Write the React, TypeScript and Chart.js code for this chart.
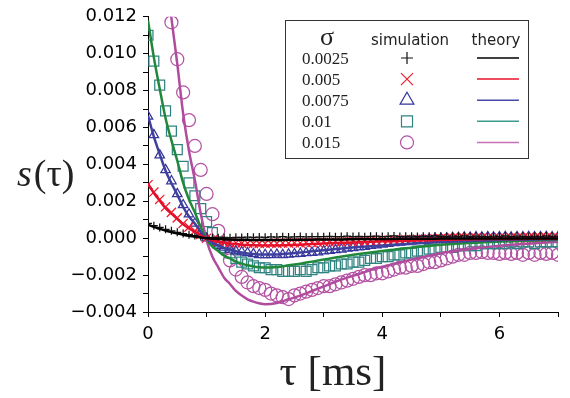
import React, { useEffect, useRef } from 'react';
import { Chart, registerables } from 'chart.js';

Chart.register(...registerables);

// ---------- data ----------
const TAU_SIM = [
  0, 0.1, 0.2, 0.3, 0.4, 0.5, 0.6, 0.7, 0.8, 0.9,
  1, 1.1, 1.2, 1.3, 1.4, 1.5, 1.6, 1.7, 1.8, 1.9,
  2, 2.1, 2.2, 2.3, 2.4, 2.5, 2.6, 2.7, 2.8, 2.9,
  3, 3.1, 3.2, 3.3, 3.4, 3.5, 3.6, 3.7, 3.8, 3.9,
  4, 4.1, 4.2, 4.3, 4.4, 4.5, 4.6, 4.7, 4.8, 4.9,
  5, 5.1, 5.2, 5.3, 5.4, 5.5, 5.6, 5.7, 5.8, 5.9,
  6, 6.1, 6.2, 6.3, 6.4, 6.5, 6.6, 6.7, 6.8, 6.9,
  7,
];

const TAU_THEORY = [
  0, 0.1, 0.2, 0.3, 0.4, 0.5, 0.6, 0.7, 0.8, 0.9, 1, 1.1, 1.2, 1.3, 1.4, 1.5, 1.6, 1.7, 1.8, 1.9, 2,
  2.2, 2.4, 2.6, 2.8, 3, 3.2, 3.4, 3.6, 3.8, 4, 4.2, 4.4, 4.6, 4.8, 5, 5.2, 5.4, 5.6, 5.8, 6, 6.2, 6.4, 6.6, 6.8, 7,
];

const SIGMA_LABELS = ['0.0025', '0.005', '0.0075', '0.01', '0.015'];

const SIM_0025 = [
  0.0008, 0.00068, 0.00058, 0.00048, 0.0004, 0.00032, 0.00025, 0.00019, 0.00014, 0.00009,
  0.00005, 0.00003, 0.00002, 0.00004, 0.00003, 0.00005, 0.00004, 0.00006, 0.00005, 0.00006,
  0.00005, 0.00007, 0.00006, 0.00008, 0.00006, 0.00007, 0.00009, 0.00007, 0.00008, 0.00009,
  0.00008, 0.0001, 0.00008, 0.00009, 0.00011, 0.00009, 0.0001, 0.00008, 0.0001, 0.00011,
  0.00009, 0.0001, 0.00012, 0.00009, 0.0001, 0.00011, 0.00009, 0.00011, 0.0001, 0.00012,
  0.0001, 0.00009, 0.00011, 0.0001, 0.00012, 0.00009, 0.00011, 0.0001, 0.00009, 0.00011,
  0.0001, 0.00012, 0.00009, 0.00011, 0.0001, 0.00009, 0.00011, 0.0001, 0.00012, 0.0001,
  0.00011,
];
const SIM_005 = [
  0.0029, 0.0025, 0.0021, 0.0017, 0.0014, 0.0011, 0.0008, 0.0006, 0.0004, 0.0002,
  0.0, -0.0001, -0.00016, -0.0002, -0.00024, -0.00026, -0.00028, -0.00027, -0.00029, -0.00028,
  -0.00029, -0.00027, -0.00028, -0.00026, -0.00027, -0.00025, -0.00026, -0.00024, -0.00023, -0.00024,
  -0.00021, -0.00022, -0.00019, -0.0002, -0.00017, -0.00018, -0.00015, -0.00016, -0.00013, -0.00014,
  -0.00011, -0.00012, -0.00009, -0.0001, -0.00007, -0.00008, -0.00005, -0.00006, -0.00004, -0.00003,
  -0.00002, -0.00003, 0.0, -0.00001, 0.00001, 0.0, 0.00002, 0.00001, 0.00002, 0.0,
  0.00002, 0.00001, 0.00003, 0.00001, 0.00002, 0.00003, 0.00001, 0.00002, 0.00003, 0.00002,
  0.00002,
];
const SIM_0075 = [
  0.0066, 0.0056, 0.0045, 0.0037, 0.0031, 0.0024, 0.0018, 0.0013, 0.0008, 0.0003,
  0.0, -0.0002, -0.0004, -0.0005, -0.0006, -0.0007, -0.00075, -0.0008, -0.00085, -0.0009,
  -0.0009, -0.0009, -0.00088, -0.0009, -0.00087, -0.00085, -0.00083, -0.0008, -0.00078, -0.00075,
  -0.0007, -0.00068, -0.00063, -0.0006, -0.00055, -0.00052, -0.00048, -0.00045, -0.0004, -0.00037,
  -0.00033, -0.0003, -0.00026, -0.00023, -0.0002, -0.00016, -0.00013, -0.0001, -0.00007, -0.00005,
  -0.00002, 0.0, 0.00002, 0.00003, 0.00005, 0.00004, 0.00006, 0.00005, 0.00007, 0.00005,
  0.00006, 0.00008, 0.00005, 0.00007, 0.00006, 0.00008, 0.00006, 0.00007, 0.00008, 0.00006,
  0.00007,
];
const SIM_01 = [
  0.011, 0.0096, 0.0083, 0.0069, 0.0058, 0.0048, 0.0039, 0.003, 0.0023, 0.0016,
  0.0009, 0.0003, -0.0002, -0.0005, -0.0008, -0.0011, -0.0013, -0.0014, -0.0015, -0.0016,
  -0.0016, -0.0017, -0.0017, -0.0018, -0.0018, -0.0018, -0.0017, -0.0018, -0.0017, -0.0016,
  -0.0016, -0.0015, -0.0015, -0.0014, -0.0014, -0.0013, -0.0013, -0.0012, -0.0011, -0.0011,
  -0.001, -0.001, -0.0009, -0.0009, -0.0008, -0.0008, -0.0007, -0.0007, -0.0006, -0.0006,
  -0.0005, -0.0005, -0.0005, -0.0004, -0.0004, -0.0004, -0.0004, -0.0003, -0.0003, -0.0003,
  -0.0003, -0.0003, -0.0002, -0.0003, -0.0002, -0.0002, -0.0003, -0.0002, -0.0002, -0.0002,
  -0.0002,
];
const SIM_015 = [
  0.0235, 0.0195, 0.0163, 0.0138, 0.0117, 0.0097, 0.0079, 0.0064, 0.005, 0.0037,
  0.0024, 0.0013, 0.0004, -0.0005, -0.0012, -0.0017, -0.0021, -0.0024, -0.0026, -0.0027,
  -0.0028, -0.003, -0.0031, -0.0032, -0.0033, -0.0031, -0.003, -0.0029, -0.0028, -0.0027,
  -0.0026, -0.0026, -0.0025, -0.0024, -0.0023, -0.0022, -0.0021, -0.002, -0.002, -0.0019,
  -0.0019, -0.0018, -0.0017, -0.0016, -0.0016, -0.0015, -0.0015, -0.0014, -0.0013, -0.0013,
  -0.0012, -0.0011, -0.001, -0.0009, -0.0009, -0.0008, -0.0008, -0.00075, -0.0008, -0.0008,
  -0.00085, -0.0008, -0.00085, -0.0008, -0.0009, -0.0008, -0.0009, -0.0008, -0.00085, -0.0008,
  -0.0009,
];

const TH_0025 = [
  0.00074, 0.00061, 0.00051, 0.00041, 0.00033, 0.00026, 0.00019, 0.00013, 0.00009, 0.00004, 0.0,
  -0.00003, -0.00004, -0.00006, -0.00007, -0.00008, -0.00009, -0.00009, -0.0001, -0.0001, -0.0001,
  -0.0001, -0.00009, -0.00009, -0.00008, -0.00007, -0.00007, -0.00006, -0.00005, -0.00005, -0.00004,
  -0.00004, -0.00003, -0.00003, -0.00003, -0.00002, -0.00002, -0.00002, -0.00002, -0.00001, -0.00001,
  -0.00001, -0.00001, -0.00001, -0.00001, -0.00001,
];
const TH_005 = [
  0.00295, 0.00245, 0.00203, 0.00163, 0.00133, 0.00105, 0.00075, 0.00053, 0.00035, 0.00015, -0.00001,
  -0.00011, -0.00018, -0.00024, -0.00028, -0.00032, -0.00035, -0.00037, -0.00038, -0.00039, -0.0004,
  -0.00039, -0.00037, -0.00035, -0.00032, -0.00029, -0.00026, -0.00024, -0.00022, -0.00019, -0.00017,
  -0.00016, -0.00014, -0.00012, -0.00011, -0.00009, -0.00008, -0.00007, -0.00006, -0.00005, -0.00005,
  -0.00004, -0.00004, -0.00003, -0.00003, -0.00002,
];
const TH_0075 = [
  0.00664, 0.00551, 0.00456, 0.00366, 0.00298, 0.00236, 0.00169, 0.00118, 0.00079, 0.00034, -0.00003,
  -0.00025, -0.00039, -0.00053, -0.00062, -0.00071, -0.00078, -0.00083, -0.00086, -0.00088, -0.00089,
  -0.00088, -0.00083, -0.00078, -0.00071, -0.00065, -0.00059, -0.00053, -0.00048, -0.00043, -0.00039,
  -0.00035, -0.00031, -0.00027, -0.00024, -0.0002, -0.00018, -0.00016, -0.00014, -0.00012, -0.0001,
  -0.00009, -0.00008, -0.00007, -0.00006, -0.00005,
];
const TH_01 = [
  0.0118, 0.0098, 0.0081, 0.0065, 0.0053, 0.0042, 0.003, 0.0021, 0.0014, 0.0006, -0.00005,
  -0.00045, -0.0007, -0.00095, -0.0011, -0.00127, -0.00138, -0.00147, -0.00153, -0.00157, -0.00159,
  -0.00156, -0.00147, -0.00138, -0.00127, -0.00116, -0.00105, -0.00095, -0.00086, -0.00077, -0.00069,
  -0.00062, -0.00055, -0.00048, -0.00042, -0.00036, -0.00032, -0.00028, -0.00024, -0.00021, -0.00018,
  -0.00016, -0.00014, -0.00012, -0.0001, -0.00009,
];
const TH_015 = [
  0.02655, 0.02205, 0.01823, 0.01463, 0.01193, 0.00945, 0.00675, 0.00473, 0.00315, 0.00135, -0.00011,
  -0.00101, -0.00158, -0.00214, -0.00248, -0.00286, -0.00311, -0.00331, -0.00344, -0.00353, -0.00358,
  -0.00351, -0.00331, -0.00311, -0.00286, -0.00261, -0.00236, -0.00214, -0.00194, -0.00173, -0.00155,
  -0.0014, -0.00124, -0.00108, -0.00095, -0.00081, -0.00072, -0.00063, -0.00054, -0.00047, -0.00041,
  -0.00036, -0.00032, -0.00027, -0.00023, -0.0002,
];

// ---------- styles ----------
const SERIES = [
  { sim: SIM_0025, th: TH_0025, marker: 'cross', markerColor: '#111111', lineColor: '#000000', legendLine: '#000000', r: 4, lr: 6 },
  { sim: SIM_005, th: TH_005, marker: 'crossRot', markerColor: '#ee1c2e', lineColor: '#e4102a', legendLine: '#e8102a', r: 6.5, lr: 8.5 },
  { sim: SIM_0075, th: TH_0075, marker: 'triangle', markerColor: '#35359c', lineColor: '#3f3f9e', legendLine: '#4848a8', r: 5.5, lr: 8 },
  { sim: SIM_01, th: TH_01, marker: 'rect', markerColor: '#2f8482', lineColor: '#21873a', legendLine: '#3c9a90', r: 7, lr: 7.8 },
  { sim: SIM_015, th: TH_015, marker: 'circle', markerColor: '#b452a4', lineColor: '#b04c9e', legendLine: '#c472b8', r: 6.5, lr: 6.5 },
];

const SERIF = '"Liberation Serif", "Times New Roman", serif';
const SANS = '"DejaVu Sans", sans-serif';

function drawMarker(ctx: CanvasRenderingContext2D, style: string, x: number, y: number, r: number) {
  ctx.beginPath();
  if (style === 'cross') {
    ctx.moveTo(x - r, y); ctx.lineTo(x + r, y);
    ctx.moveTo(x, y - r); ctx.lineTo(x, y + r);
  } else if (style === 'crossRot') {
    const d = r * Math.SQRT1_2;
    ctx.moveTo(x - d, y - d); ctx.lineTo(x + d, y + d);
    ctx.moveTo(x - d, y + d); ctx.lineTo(x + d, y - d);
  } else if (style === 'triangle') {
    ctx.moveTo(x, y - r);
    ctx.lineTo(x + r * Math.sin(Math.PI * 2 / 3), y + r * 0.5);
    ctx.lineTo(x - r * Math.sin(Math.PI * 2 / 3), y + r * 0.5);
    ctx.closePath();
  } else if (style === 'rect') {
    const s = r * Math.SQRT1_2;
    ctx.rect(x - s, y - s, 2 * s, 2 * s);
  } else {
    ctx.arc(x, y, r, 0, Math.PI * 2);
  }
  ctx.stroke();
}

const overlayPlugin = {
  id: 'overlay',
  afterDraw(chart: any) {
    const ctx: CanvasRenderingContext2D = chart.ctx;
    ctx.save();
    ctx.fillStyle = '#222';
    ctx.textBaseline = 'alphabetic';
    // y title: s(τ)
    ctx.textAlign = 'left';
    ctx.font = `italic 38px ${SERIF}`;
    ctx.fillText('s', 17, 186);
    const w = ctx.measureText('s').width;
    ctx.font = `38px ${SERIF}`;
    ctx.fillText('(τ)', 17 + w + 2, 186);
    // x title
    ctx.font = `43px ${SERIF}`;
    ctx.textAlign = 'center';
    ctx.fillText('τ [ms]', 333, 385);

    // legend box
    const bx = 285, by = 20, bw = 243, bh = 138;
    ctx.fillStyle = '#ffffff';
    ctx.fillRect(bx, by, bw, bh);
    ctx.strokeStyle = '#333';
    ctx.lineWidth = 1;
    ctx.strokeRect(bx + 0.5, by + 0.5, bw, bh);

    ctx.fillStyle = '#222';
    ctx.textAlign = 'center';
    ctx.font = `26px ${SERIF}`;
    ctx.fillText('σ', 327, 45);
    ctx.font = `15px ${SANS}`;
    ctx.fillText('simulation', 410, 45);
    ctx.fillText('theory', 496, 45);

    SERIES.forEach((s, i) => {
      const base = 63.5 + i * 21.1;
      const cy = base - 5.5;
      ctx.fillStyle = '#222';
      ctx.textAlign = 'left';
      ctx.font = `17px ${SERIF}`;
      ctx.fillText(SIGMA_LABELS[i], 302, base);
      ctx.strokeStyle = s.markerColor;
      ctx.lineWidth = 1.2;
      drawMarker(ctx, s.marker, 407, cy, s.lr);
      ctx.strokeStyle = s.legendLine;
      ctx.lineWidth = 1.5;
      ctx.beginPath();
      ctx.moveTo(477, cy);
      ctx.lineTo(519, cy);
      ctx.stroke();
    });
    ctx.restore();
  },
};

export default function App() {
  const ref = useRef<HTMLCanvasElement | null>(null);

  useEffect(() => {
    const canvas = ref.current;
    if (!canvas) return;
    const toPts = (xs: number[], ys: number[]) => xs.map((x, i) => ({ x, y: ys[i] }));

    const datasets: any[] = [
      ...SERIES.map((s, i) => ({
        label: 'theory ' + SIGMA_LABELS[i],
        data: toPts(TAU_THEORY, s.th),
        showLine: true,
        borderColor: s.lineColor,
        backgroundColor: s.lineColor,
        borderWidth: 2.5,
        pointRadius: 0,
        pointHoverRadius: 0,
        fill: false,
        cubicInterpolationMode: 'monotone',
      })),
      ...SERIES.map((s, i) => ({
        label: 'simulation ' + SIGMA_LABELS[i],
        data: toPts(TAU_SIM, s.sim),
        showLine: false,
        pointStyle: s.marker,
        pointRadius: s.r,
        pointHoverRadius: s.r,
        pointBorderWidth: 1.25,
        pointBorderColor: s.markerColor,
        pointBackgroundColor: 'rgba(0,0,0,0)',
        borderColor: s.markerColor,
        backgroundColor: 'rgba(0,0,0,0)',
      })),
    ];

    const chart = new Chart(canvas, {
      type: 'scatter',
      data: { datasets },
      options: {
        animation: false,
        responsive: false,
        devicePixelRatio: 1,
        events: [],
        layout: { padding: { top: 13, right: 12, left: 0, bottom: 0 } },
        plugins: { legend: { display: false }, tooltip: { enabled: false }, title: { display: false } },
        scales: {
          x: {
            type: 'linear',
            min: 0,
            max: 7,
            afterFit: (s: any) => { s.height = 86; },
            border: { display: true, color: '#000', width: 1 },
            grid: { display: true, drawOnChartArea: false, drawTicks: true, tickLength: 5, tickColor: '#000', tickWidth: 1 },
            ticks: {
              stepSize: 1,
              autoSkip: false,
              maxRotation: 0,
              padding: 7,
              color: '#000',
              font: { family: SANS, size: 18 },
              callback: (v: any) => {
                const k = Math.round(Number(v));
                return k % 2 === 0 ? String(k) : '';
              },
            },
          },
          y: {
            type: 'linear',
            min: -0.004,
            max: 0.012,
            afterFit: (s: any) => { s.width = 148; },
            border: { display: true, color: '#000', width: 1 },
            grid: { display: true, drawOnChartArea: false, drawTicks: true, tickLength: 5, tickColor: '#000', tickWidth: 1 },
            ticks: {
              stepSize: 0.001,
              autoSkip: false,
              padding: 6,
              color: '#000',
              font: { family: SANS, size: 18 },
              callback: (v: any) => {
                const k = Math.round(Number(v) * 1000);
                if (k % 2 !== 0) return '';
                const txt = (Math.abs(k) / 1000).toFixed(3);
                return k < 0 ? '\u2212' + txt : txt;
              },
            },
          },
        },
      } as any,
      plugins: [overlayPlugin],
    });

    return () => chart.destroy();
  }, []);

  return (
    <div style={{ position: 'absolute', left: 0, top: 0, width: 570, height: 398, background: '#fff' }}>
      <canvas ref={ref} width={570} height={398} />
    </div>
  );
}
